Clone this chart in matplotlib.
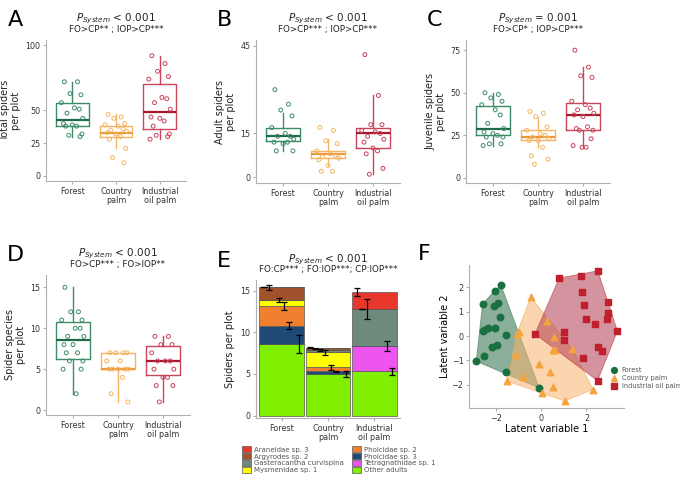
import numpy as np
import matplotlib
matplotlib.use("Agg")
import matplotlib.pyplot as plt
from matplotlib.patches import Polygon

plt.rcParams['font.family'] = ['DejaVu Sans']

groups = ["Forest", "Country\npalm", "Industrial\noil palm"]
col_pt = ["#3d8c68", "#f5b461", "#c8455a"]
col_med = ["#1f6b47", "#e89a3a", "#a8182e"]

# ---- panel A: total spiders
A_pts = [[72,72,63,62,56,52,51,48,44,40,39,38,38,32,31,30],
         [47,45,44,40,39,38,36,35,34,33,32,30,28,21,14,10],
         [92,86,80,76,74,60,59,56,51,45,44,42,38,32,31,30,28]]
A_box = [(30,38,43,56,72),(21,30,33,38,47),(28,36,49,70,92)]
# ---- panel B: adult spiders
B_pts = [[30,25,23,21,17,15,14,14,13,12,11.5,12,9,9],
         [17,16,12.5,11.5,9,8,7.5,7,6.5,6,4,2,2],
         [42,28,18,18,16,15.5,15,14,13,12,10,9,8,3,1]]
B_box = [(9,12.5,14,17,22),(4,6.5,8,9,13),(1,10,15,17,28)]
# ---- panel C: juvenile spiders
C_pts = [[50,49,47,45,43,40,37,32,29,27,26,25,24,24,20,20,19],
         [39,38,36,30,28,26,25,24,23,22,22,18,13,11,8],
         [75,65,60,59,45,43,41,40,38,37,36,30,29,28,28,23,19,18,18]]
C_box = [(19,25,29,42,50),(18,22,24,28,36),(18,28,37,44,65)]
# ---- panel D: species
D_pts = [[15,12,12,11,11,10,10,9,9,8,8,7,7,6,6,5,5,2],
         [7,7,7,7,6,6,5,5,5,5,5,4,2,1],
         [9,9,8,8,7,6,6,6,5,5,4,4,3,3,1]]
D_box = [(2,6.3,8.5,10.8,15),(1,5,5,7,7),(1,4.3,6,7.8,9)]

# ---- panel E: stacked composition (bottom->top order)
taxa = ["Other adults", "Tetragnathidae sp. 1", "Pholcidae sp. 3", "Pholcidae sp. 2",
        "Mysmenidae sp. 1", "Gasteracantha curvispina", "Argyrodes sp. 2", "Araneidae sp. 3"]
taxa_col = ["#80f000", "#ee55ee", "#1f4a78", "#f08030", "#ffff00", "#6e8a7c", "#a0522d", "#e8382b"]
E_forest = [8.6, 0.0, 2.2, 2.4, 0.7, 0.0, 1.5, 0.05]
E_cp     = [5.0, 0.0, 0.3, 0.5, 1.8, 0.3, 0.2, 0.05]
E_iop    = [5.3, 3.1, 0.0, 0.0, 0.0, 4.4, 0.02, 2.0]
E_err_forest = [1.1, 0.0, 0.4, 0.5, 0.25, 0.0, 0.3, 0.05]
E_err_cp     = [0.35, 0.0, 0.05, 0.3, 0.3, 0.1, 0.05, 0.05]
E_err_iop    = [0.4, 0.6, 0.0, 0.0, 0.0, 1.2, 0.05, 0.5]

# ---- panel F: latent variables
F_forest = [(-1.78,2.08),(-2.07,1.87),(-2.6,1.3),(-1.93,1.37),(-2.1,1.22),(-1.82,0.78),
            (-2.06,0.35),(-2.35,0.32),(-2.55,0.25),(-2.6,0.19),(-1.57,0.06),(-1.95,-0.38),
            (-2.2,-0.46),(-2.55,-0.82),(-2.88,-1.04),(-1.57,-1.47),(-0.09,-2.14)]
F_cp = [(-0.47,1.6),(0.24,0.63),(-1.0,0.18),(-1.09,0.08),(0.56,-0.05),(0.5,-0.56),(0.59,-0.56),
        (1.37,-0.53),(-1.12,-0.78),(-0.1,-1.16),(0.38,-1.48),(-0.79,-1.7),(-1.51,-1.86),
        (0.51,-2.08),(0.02,-2.35),(1.03,-2.67),(2.29,-2.2)]
F_iop = [(0.79,2.38),(1.75,2.48),(2.5,2.68),(1.78,1.82),(1.9,1.29),(2.96,1.38),(2.97,0.94),
         (1.97,0.7),(2.37,0.49),(2.91,0.7),(3.37,0.2),(1.0,0.16),(1.01,-0.15),(-0.28,0.08),
         (2.49,-0.46),(2.69,-0.63),(1.84,-0.92),(2.49,-1.84)]

W, H = 680, 491
fig = plt.figure(figsize=(W/100, H/100), dpi=100)

def ax_px(l, t, r, b):
    return fig.add_axes([l/W, 1-b/H, (r-l)/W, (b-t)/H])

def style(ax):
    for s in ["top", "right"]:
        ax.spines[s].set_visible(False)
    for s in ["left", "bottom"]:
        ax.spines[s].set_color("#b0b0b0")
    ax.tick_params(colors="#b0b0b0", labelsize=5.8, length=2.5, pad=1.5, labelcolor="#333333")

jit = [-0.18, 0.12, -0.05, 0.2, -0.25, 0.05, 0.16, -0.12, 0.24, -0.2, 0.0, 0.1, -0.15, 0.22, -0.08, 0.18, -0.22, 0.07, -0.02]

def header(ax, letter, ptxt, comp, xl=-0.27):
    ax.text(0.5, 1.15, ptxt, transform=ax.transAxes, ha="center", va="center", fontsize=7.5, color="#222222")
    ax.text(0.5, 1.075, comp, transform=ax.transAxes, ha="center", va="center", fontsize=6.3, color="#222222")
    ax.text(xl, 1.14, letter, transform=ax.transAxes, fontsize=16, va="center")

def boxpanel(ax, pts, box, yt, ylim, ylabel):
    stats = []
    for i in range(3):
        lo, q1, med, q3, hi = box[i]
        stats.append(dict(whislo=lo, q1=q1, med=med, q3=q3, whishi=hi, fliers=[]))
    for i in range(3):
        ax.bxp([stats[i]], positions=[i+1], widths=0.75, showcaps=False,
               boxprops=dict(color=col_pt[i], linewidth=1),
               whiskerprops=dict(color=col_pt[i], linewidth=1),
               medianprops=dict(color=col_med[i], linewidth=1.6))
        xs = [i+1+jit[k % len(jit)] for k in range(len(pts[i]))]
        ax.scatter(xs, pts[i], s=8, facecolors="none", edgecolors=col_pt[i], linewidths=0.7, zorder=3)
    ax.set_xlim(0.4, 3.6)
    ax.set_ylim(*ylim)
    ax.set_yticks(yt)
    ax.set_xticks([1, 2, 3])
    ax.set_xticklabels(groups, fontsize=5.8, linespacing=1.0)
    ax.set_ylabel(ylabel, fontsize=7, color="#222222", linespacing=1.1, labelpad=3)
    style(ax)

P = r"$P_{System}$"
axA = ax_px(46, 40, 186, 181)
boxpanel(axA, A_pts, A_box, [0, 25, 50, 100], (-4, 104), "Total spiders\nper plot")
header(axA, "A", P + " < 0.001", "FO>CP** ; IOP>CP***")
axB = ax_px(256, 40, 400, 183)
boxpanel(axB, B_pts, B_box, [0, 15, 45], (-2, 47), "Adult spiders\nper plot")
header(axB, "B", P + " < 0.001", "FO>CP*** ; IOP>CP***")
axC = ax_px(466, 40, 610, 183)
boxpanel(axC, C_pts, C_box, [0, 25, 50, 75], (-3, 81), "Juvenile spiders\nper plot")
header(axC, "C", P + " = 0.001", "FO>CP* ; IOP>CP***")
axD = ax_px(46, 275, 190, 415)
boxpanel(axD, D_pts, D_box, [0, 5, 10, 15], (-0.6, 16.5), "Spider species\nper plot")
header(axD, "D", P + " < 0.001", "FO>CP*** ; FO>IOP**")

# Panel E
axE = ax_px(256, 280, 400, 418)
vals = [E_forest, E_cp, E_iop]
errs = [E_err_forest, E_err_cp, E_err_iop]
bottoms = np.zeros(3)
handles = {}
for j, t in enumerate(taxa):
    v = np.array([vals[g][j] for g in range(3)])
    h = axE.bar([1, 2, 3], v, bottom=bottoms, width=0.95, color=taxa_col[j],
                edgecolor="#555555", linewidth=0.5, label=t)
    handles[t] = h
    tops = bottoms + v
    legend_idx = 7 - j
    off = -0.38 + legend_idx * (0.76 / 7)
    for g in range(3):
        if v[g] > 0:
            axE.errorbar(g + 1 + off, tops[g], yerr=errs[g][j], color="black",
                         capsize=2.5, elinewidth=0.9, capthick=0.9)
    bottoms = tops
axE.set_xlim(0.45, 3.55)
axE.set_ylim(-0.3, 16.3)
axE.set_yticks([0, 5, 10, 15])
axE.set_xticks([1, 2, 3])
axE.set_xticklabels(groups, fontsize=5.8, linespacing=1.0)
axE.set_ylabel("Spiders per plot", fontsize=7, color="#222222")
style(axE)
header(axE, "E", P + " < 0.001", "FO:CP*** ; FO:IOP***; CP:IOP***", xl=-0.27)
leg_order = ["Araneidae sp. 3", "Argyrodes sp. 2", "Gasteracantha curvispina", "Mysmenidae sp. 1",
             "Pholcidae sp. 2", "Pholcidae sp. 3", "Tetragnathidae sp. 1", "Other adults"]
fig.legend([handles[t] for t in leg_order], leg_order, ncol=2, loc="upper left",
           bbox_to_anchor=(236/W, 1-440/H), fontsize=5, frameon=False,
           handlelength=1.2, handleheight=0.9, columnspacing=1.2, labelspacing=0.1,
           handletextpad=0.5, labelcolor="#555555")

# Panel F
def hull(points):
    p = sorted(set(points))
    def cross(o, a, b):
        return (a[0]-o[0])*(b[1]-o[1]) - (a[1]-o[1])*(b[0]-o[0])
    lower, upper = [], []
    for q in p:
        while len(lower) >= 2 and cross(lower[-2], lower[-1], q) <= 0:
            lower.pop()
        lower.append(q)
    for q in reversed(p):
        while len(upper) >= 2 and cross(upper[-2], upper[-1], q) <= 0:
            upper.pop()
        upper.append(q)
    return lower[:-1] + upper[:-1]

axF = ax_px(469, 265, 624, 408)
fset = [(F_forest, "#1a7040", "#2d6e4a", "o", "Forest"),
        (F_cp, "#f5a33d", "#f8b370", "^", "Country palm"),
        (F_iop, "#c0202e", "#b03a50", "s", "Industrial oil palm")]
for pts, c, fc, m, lab in fset:
    axF.add_patch(Polygon(hull(pts), closed=True, facecolor=fc, alpha=0.55,
                          edgecolor=c, linewidth=0.6))
for pts, c, fc, m, lab in fset:
    a = np.array(pts)
    axF.scatter(a[:, 0], a[:, 1], marker=m, s=22, color=c, label=lab, zorder=3)
axF.set_xlim(-3.2, 3.66)
axF.set_ylim(-2.96, 2.92)
axF.set_xticks([-2, 0, 2])
axF.set_yticks([-2, -1, 0, 1, 2])
axF.set_xlabel("Latent variable 1", fontsize=7, labelpad=1)
axF.set_ylabel("Latent variable 2", fontsize=7, labelpad=1)
style(axF)
axF.text(-0.33, 1.08, "F", transform=axF.transAxes, fontsize=16, va="center")
axF.legend(loc="lower left", bbox_to_anchor=(0.86, 0.1), fontsize=4.8, frameon=False,
           handletextpad=0.2, labelspacing=0.3, markerscale=0.9, borderpad=0.2,
           labelcolor="#555555")

fig.savefig("out.png", dpi=100)
